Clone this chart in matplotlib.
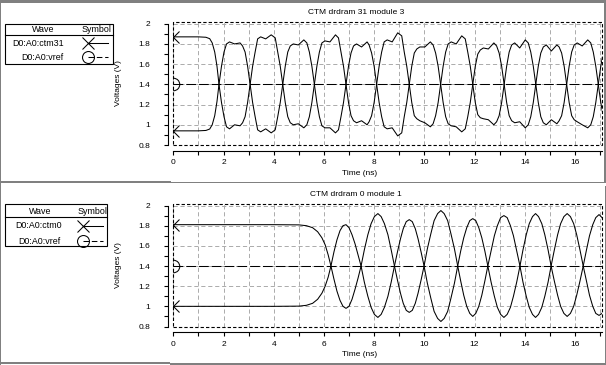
import matplotlib
matplotlib.use("Agg")
import matplotlib.pyplot as plt
from matplotlib.patches import Rectangle
from matplotlib.ticker import MultipleLocator, FuncFormatter

plt.rcParams['font.family'] = ['Liberation Sans', 'DejaVu Sans']
plt.rcParams['font.size'] = 6
plt.rcParams['lines.scale_dashes'] = False

W, H = 606, 365   # picture size in pixels
XMAX = 17.09

# ---- panel 1: CTM drdram 31 module 3 ----
top_title = "CTM drdram 31 module 3"
top_waves = ["D0:A0:ctm31", "D0:A0:vref"]
top_t = [0.00, 0.50, 1.00, 1.30, 1.45, 1.55, 1.65, 1.74, 1.82,
         1.92, 2.02, 2.12, 2.24, 2.44, 2.66, 2.76, 2.86, 2.96, 3.06,
         3.16, 3.26, 3.36, 3.48, 3.68, 3.90, 4.06, 4.16, 4.26, 4.36,
         4.46, 4.56, 4.66, 4.78, 4.98, 5.20, 5.32, 5.42, 5.52, 5.62,
         5.72, 5.82, 5.92, 6.04, 6.24, 6.46, 6.58, 6.68, 6.78, 6.88,
         6.98, 7.08, 7.18, 7.30, 7.50, 7.72, 7.80, 7.90, 8.00, 8.10,
         8.20, 8.30, 8.40, 8.52, 8.72, 8.94, 9.10, 9.20, 9.30, 9.40,
         9.50, 9.60, 9.70, 9.82, 10.02, 10.24, 10.35, 10.45, 10.55, 10.65,
         10.75, 10.85, 10.95, 11.07, 11.27, 11.49, 11.63, 11.73, 11.83, 11.93,
         12.03, 12.13, 12.23, 12.35, 12.55, 12.77, 12.88, 12.98, 13.08, 13.18,
         13.28, 13.38, 13.48, 13.60, 13.80, 14.02, 14.14, 14.24, 14.34, 14.44,
         14.54, 14.64, 14.74, 14.86, 15.06, 15.28, 15.37, 15.47, 15.57, 15.67,
         15.77, 15.87, 15.97, 16.09, 16.29, 16.51, 16.63, 16.73, 16.83, 16.93,
         17.03, 17.13]
top_a = [1.87, 1.87, 1.87, 1.866, 1.852, 1.81, 1.72, 1.58, 1.40,
         1.22, 1.08, 0.98, 0.96, 1.00, 0.99, 1.02, 1.08, 1.22, 1.40,
         1.58, 1.72, 1.85, 1.87, 1.85, 1.89, 1.86, 1.72, 1.58, 1.40,
         1.22, 1.08, 1.02, 1.00, 1.01, 0.97, 1.00, 1.08, 1.22, 1.40,
         1.58, 1.72, 1.81, 1.83, 1.82, 1.89, 1.86, 1.72, 1.58, 1.40,
         1.22, 1.09, 1.04, 1.02, 1.04, 1.00, 1.03, 1.09, 1.22, 1.40,
         1.58, 1.72, 1.82, 1.84, 1.82, 1.91, 1.88, 1.72, 1.58, 1.40,
         1.22, 1.09, 1.06, 1.04, 1.02, 0.98, 1.01, 1.09, 1.22, 1.40,
         1.58, 1.72, 1.80, 1.82, 1.80, 1.88, 1.85, 1.72, 1.58, 1.40,
         1.22, 1.10, 1.07, 1.06, 1.05, 1.00, 1.03, 1.09, 1.22, 1.40,
         1.58, 1.72, 1.79, 1.81, 1.76, 1.84, 1.81, 1.72, 1.58, 1.40,
         1.22, 1.08, 1.02, 1.00, 1.05, 1.01, 1.04, 1.09, 1.22, 1.40,
         1.58, 1.72, 1.79, 1.81, 1.78, 1.84, 1.81, 1.72, 1.58, 1.40,
         1.22, 1.08]
top_b = [0.94, 0.94, 0.94, 0.944, 0.958, 1.00, 1.09, 1.23, 1.40,
         1.58, 1.72, 1.80, 1.82, 1.80, 1.81, 1.78, 1.72, 1.58, 1.40,
         1.22, 1.08, 0.95, 0.93, 0.96, 0.92, 0.95, 1.08, 1.22, 1.40,
         1.58, 1.72, 1.78, 1.80, 1.79, 1.84, 1.81, 1.72, 1.58, 1.40,
         1.22, 1.08, 0.99, 0.97, 0.97, 0.92, 0.95, 1.08, 1.22, 1.40,
         1.58, 1.71, 1.78, 1.80, 1.77, 1.82, 1.79, 1.71, 1.58, 1.40,
         1.22, 1.08, 0.98, 0.96, 0.97, 0.89, 0.92, 1.08, 1.22, 1.40,
         1.58, 1.71, 1.75, 1.77, 1.77, 1.82, 1.79, 1.71, 1.58, 1.40,
         1.22, 1.08, 1.01, 0.99, 0.98, 0.93, 0.96, 1.08, 1.22, 1.40,
         1.58, 1.70, 1.74, 1.76, 1.75, 1.81, 1.78, 1.71, 1.58, 1.40,
         1.22, 1.09, 1.04, 1.02, 1.03, 0.97, 1.00, 1.08, 1.22, 1.40,
         1.58, 1.71, 1.77, 1.79, 1.73, 1.79, 1.77, 1.71, 1.58, 1.40,
         1.22, 1.09, 1.05, 1.03, 1.00, 0.97, 1.00, 1.08, 1.22, 1.40,
         1.58, 1.72]

# ---- panel 2: CTM drdram 0 module 1 ----
bot_title = "CTM drdram 0 module 1"
bot_waves = ["D0:A0:ctm0", "D0:A0:vref"]
bot_t = [0.00, 2.00, 4.00, 5.00, 5.30, 5.55, 5.75, 5.92, 6.05, 6.17, 6.28,
         6.40, 6.52, 6.64, 6.76, 6.88, 7.00, 7.12, 7.24, 7.36, 7.48,
         7.61, 7.75, 7.88, 8.01, 8.15, 8.28, 8.41, 8.55, 8.68, 8.81,
         8.93, 9.05, 9.16, 9.28, 9.40, 9.52, 9.64, 9.75, 9.87, 9.99,
         10.12, 10.26, 10.39, 10.53, 10.66, 10.79, 10.93, 11.06, 11.20, 11.33,
         11.45, 11.57, 11.69, 11.81, 11.93, 12.05, 12.17, 12.29, 12.41, 12.53,
         12.66, 12.79, 12.91, 13.04, 13.17, 13.30, 13.43, 13.55, 13.68, 13.81,
         13.93, 14.06, 14.18, 14.31, 14.43, 14.55, 14.68, 14.80, 14.93, 15.05,
         15.18, 15.31, 15.43, 15.56, 15.69, 15.82, 15.95, 16.07, 16.20, 16.33,
         16.46, 16.58, 16.71, 16.83, 16.96, 17.08, 17.21]
bot_a = [1.81, 1.81, 1.81, 1.808, 1.80, 1.78, 1.74, 1.68, 1.61, 1.51, 1.40,
         1.27, 1.15, 1.06, 1.00, 0.98, 1.00, 1.07, 1.17, 1.28, 1.40,
         1.56, 1.71, 1.82, 1.89, 1.92, 1.89, 1.82, 1.71, 1.56, 1.40,
         1.26, 1.13, 1.03, 0.96, 0.94, 0.96, 1.03, 1.13, 1.26, 1.40,
         1.57, 1.72, 1.85, 1.92, 1.95, 1.92, 1.85, 1.72, 1.57, 1.40,
         1.25, 1.11, 1.00, 0.93, 0.90, 0.93, 1.00, 1.11, 1.25, 1.40,
         1.55, 1.70, 1.80, 1.88, 1.90, 1.88, 1.80, 1.70, 1.55, 1.40,
         1.24, 1.10, 0.99, 0.92, 0.89, 0.92, 0.99, 1.10, 1.24, 1.40,
         1.56, 1.71, 1.82, 1.89, 1.92, 1.89, 1.82, 1.71, 1.56, 1.40,
         1.25, 1.11, 1.00, 0.93, 0.91, 0.93, 1.00]
bot_b = [1.00, 1.00, 1.00, 1.002, 1.01, 1.03, 1.07, 1.13, 1.20, 1.29, 1.40,
         1.54, 1.66, 1.75, 1.80, 1.81, 1.78, 1.71, 1.62, 1.51, 1.40,
         1.24, 1.10, 0.99, 0.92, 0.89, 0.92, 0.99, 1.10, 1.24, 1.40,
         1.54, 1.67, 1.77, 1.84, 1.86, 1.84, 1.77, 1.67, 1.54, 1.40,
         1.23, 1.08, 0.95, 0.88, 0.85, 0.88, 0.95, 1.08, 1.23, 1.40,
         1.55, 1.68, 1.78, 1.85, 1.87, 1.85, 1.78, 1.68, 1.55, 1.40,
         1.24, 1.10, 0.99, 0.92, 0.89, 0.92, 0.99, 1.10, 1.24, 1.40,
         1.56, 1.71, 1.82, 1.89, 1.92, 1.89, 1.82, 1.71, 1.56, 1.40,
         1.25, 1.11, 1.00, 0.93, 0.90, 0.93, 1.00, 1.11, 1.25, 1.40,
         1.56, 1.70, 1.81, 1.88, 1.91, 1.88, 1.81]

vref_t = [0.0, 17.2]
vref_v = [1.4, 1.4]

GRAY = '#808080'
GRID = '#ababab'


def px_rect(left, top, right, bottom):
    """pixel box (y from top) -> figure fraction rect"""
    return [left / W, 1 - bottom / H, (right - left) / W, (bottom - top) / H]


def draw_panel(fig, rect, t, a, b):
    ax = fig.add_axes(rect)
    ax.set_xlim(0, XMAX)
    ax.set_ylim(0.8, 2.02)

    ax.spines['top'].set_visible(False)
    ax.spines['right'].set_visible(False)
    ax.spines['left'].set_position(('outward', 3.6))
    ax.spines['bottom'].set_position(('outward', 4.3))
    ax.spines['left'].set_bounds(0.8, 2.0)
    for s in ('left', 'bottom'):
        ax.spines[s].set_linewidth(0.8)

    ax.xaxis.set_major_locator(MultipleLocator(2))
    ax.xaxis.set_minor_locator(MultipleLocator(1))
    ax.yaxis.set_major_locator(MultipleLocator(0.2))
    ax.yaxis.set_minor_locator(MultipleLocator(0.1))
    ax.yaxis.set_major_formatter(FuncFormatter(lambda v, p: '%g' % round(v, 2)))
    ax.tick_params(which='both', direction='out', length=2.9, width=0.8,
                   labelsize=6, colors='black')
    ax.tick_params(axis='y', which='major', pad=10.3)
    ax.tick_params(axis='x', which='major', pad=3.0)

    ax.grid(which='both', axis='x', color=GRID, ls=(0, (3, 2)), lw=0.7)
    ax.grid(which='major', axis='y', color=GRID, ls=(0, (3, 2)), lw=0.7)

    # dashed plot frame
    ax.add_patch(Rectangle((0, 0), 1, 1, transform=ax.transAxes, fill=False,
                           ec='black', lw=0.8, ls=(0, (2.4, 1.5)),
                           clip_on=False, zorder=4))

    for v in (a, b):
        ax.plot(t, v, color='black', lw=0.75, marker='x', ms=9, mew=0.75,
                markevery=[0], zorder=3)
    ax.plot(vref_t, vref_v, color='black', lw=0.75, ls=(0, (7, 2.2)),
            marker='o', mfc='none', ms=9, mew=0.75, markevery=[0], zorder=3)
    return ax


def draw_legend(ov, box, head_y, head_x, rows, sym_x, line_end):
    x0, y0, x1, y1 = box
    ov.add_patch(Rectangle((x0, y0), x1 - x0, y1 - y0, fill=False,
                           ec='black', lw=0.8))
    ov.plot([x0, x1], [head_y, head_y], color='black', lw=0.8)
    ov.text(head_x[0], head_y - 0.8, "Wave", ha='center', va='bottom',
            fontsize=6.4)
    ov.text(head_x[1], head_y - 0.8, "Symbol", ha='center', va='bottom',
            fontsize=6.4)
    (n1, x1t, ya), (n2, x2t, yb) = rows
    ov.text(x1t, ya, n1, ha='center', va='center', fontsize=6.4)
    ov.text(x2t, yb, n2, ha='center', va='center', fontsize=6.4)
    ov.plot([sym_x, line_end], [ya, ya], color='black', lw=0.75,
            marker='x', ms=8.6, mew=0.75, markevery=[0])
    ov.plot([sym_x, line_end], [yb, yb], color='black', lw=0.75,
            ls=(0, (4, 2)), marker='o', mfc='none', ms=8.6, mew=0.75,
            markevery=[0])


fig = plt.figure(figsize=(W / 100, H / 100), dpi=100)
fig.patch.set_facecolor('white')

draw_panel(fig, px_rect(173.3, 21.7, 602.3, 145.0), top_t, top_a, top_b)
draw_panel(fig, px_rect(173.3, 203.5, 602.3, 326.5), bot_t, bot_a, bot_b)

# overlay in pixel coordinates for frames, legends and labels
ov = fig.add_axes([0, 0, 1, 1])
ov.set_xlim(0, W)
ov.set_ylim(H, 0)
ov.axis('off')

# window frames
for (x, y, w, h) in [(0, 0, W, 2.7), (0, 0, 1.3, H), (604, 0, 2, 183),
                     (0, 180.5, 171, 2.6), (171, 181.6, W - 171, 1.6),
                     (605, 186, 1, H - 186), (0, 361.5, 170, 2.3),
                     (170, 363.4, W - 170, 1.6)]:
    ov.add_patch(Rectangle((x, y), w, h, color=GRAY, lw=0))

# titles and axis labels
ov.text(356, 12.5, top_title, ha='center', va='center')
ov.text(356, 194.5, bot_title, ha='center', va='center')
ov.text(360, 173.5, "Time (ns)", ha='center', va='center')
ov.text(360, 355.0, "Time (ns)", ha='center', va='center')
ov.text(118, 83.3, "Voltages (V)", ha='center', va='center', rotation=90)
ov.text(118, 265.0, "Voltages (V)", ha='center', va='center', rotation=90)

draw_legend(ov, (5, 24, 112.7, 64), 35, (43, 96.5),
            [(top_waves[0], 38.5, 43.3), (top_waves[1], 42.5, 57.3)],
            87.5, 108.3)
draw_legend(ov, (5, 204, 107, 246), 216.7, (40, 92),
            [(bot_waves[0], 38.3, 225.7), (bot_waves[1], 39.2, 241.0)],
            82.5, 103.3)

fig.savefig('out.png', dpi=100, facecolor='white')
